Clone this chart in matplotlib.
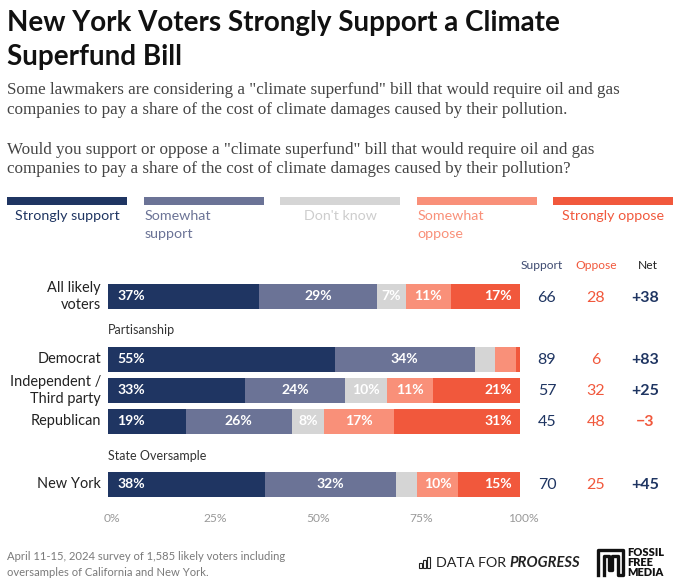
import numpy as np
import matplotlib
matplotlib.use("Agg")
import matplotlib.pyplot as plt
from matplotlib.patches import Rectangle

# data
groups = ["All likely\nvoters", "Democrat", "Independent /\nThird party", "Republican", "New York"]
strongly_support = [37, 55, 33, 19, 38]
somewhat_support = [29, 34, 24, 26, 32]
dont_know = [7, 5, 10, 8, 5]
somewhat_oppose = [11, 5, 11, 17, 10]
strongly_oppose = [17, 1, 21, 31, 15]
support_total = [66, 89, 57, 45, 70]
oppose_total = [28, 6, 32, 48, 25]
net = [38, 83, 25, -3, 45]
categories = ["Strongly support", "Somewhat\nsupport", "Don't know", "Somewhat\noppose", "Strongly oppose"]
ticks = [0, 25, 50, 75, 100]

colors = ["#1f3562", "#6b7396", "#d5d5d5", "#f99079", "#f1583c"]
legend_text_colors = ["#1f3562", "#6b7396", "#cdcdcd", "#f99079", "#f1583c"]
NAVY = "#1f3562"
RED = "#f1583c"

W, H = 680, 585
SANS = "Lato"
SERIF = "Liberation Serif"


def P(x, y):
    return x / W, 1 - y / H


def fs(px):
    return px * 0.72


fig = plt.figure(figsize=(W / 100, H / 100), dpi=100)
fig.patch.set_facecolor("white")

# title + subtitle
fig.text(*P(7, 31.5), "New York Voters Strongly Support a Climate", fontsize=fs(27.8), fontweight="bold",
         family=SANS, color="#111111", va="baseline")
fig.text(*P(7, 65), "Superfund Bill", fontsize=fs(27.8), fontweight="bold", family=SANS,
         color="#111111", va="baseline")
sub = ['Some lawmakers are considering a "climate superfund" bill that would require oil and gas',
       'companies to pay a share of the cost of climate damages caused by their pollution.',
       'Would you support or oppose a "climate superfund" bill that would require oil and gas',
       'companies to pay a share of the cost of climate damages caused by their pollution?']
for txt, yb in zip(sub, [94.5, 113.5, 153.5, 172.5]):
    fig.text(*P(7, yb), txt, fontsize=fs(17), family=SERIF, color="#444444", va="baseline")

# legend
for i, (cat, c, tc) in enumerate(zip(categories, colors, legend_text_colors)):
    x0 = 7 + i * 136.5
    fig.patches.append(Rectangle(P(x0, 205), 120 / W, 8 / H, transform=fig.transFigure,
                                 facecolor=c, edgecolor="none"))
    lines = cat.split("\n")
    if len(lines) == 1:
        fig.text(*P(x0 + 60, 216.5), lines[0], fontsize=fs(14.2), family=SANS, color=tc,
                 ha="center", va="center")
    else:
        for j, ln in enumerate(lines):
            fig.text(*P(x0 + 1, 216.5 + j * 17.5), ln, fontsize=fs(14.2), family=SANS, color=tc,
                     ha="left", va="center")

# bars (each row scaled to fill 100%)
ax = fig.add_axes([108 / W, 1 - 530 / H, 412 / W, 260 / H])
ax.set_xlim(0, 100)
ax.set_ylim(530, 270)
ax.axis("off")
rows_y = [296.5, 359.2, 390.2, 421.5, 484.2]
series = np.array([strongly_support, somewhat_support, dont_know, somewhat_oppose, strongly_oppose],
                  dtype=float)
widths = series / series.sum(axis=0) * 100
left = np.zeros(len(groups))
for k, (vals, w, c) in enumerate(zip(series, widths, colors)):
    ax.barh(rows_y, w, left=left, height=25, color=c, linewidth=0)
    for y, l, v, ww in zip(rows_y, left, vals, w):
        if v < 7:
            continue
        kw = dict(color="white", fontsize=fs(14), fontweight="bold", family=SANS, va="center",
                  textcoords="offset pixels", annotation_clip=False)
        if k == 0:
            ax.annotate(f"{int(v)}%", (l, y), xytext=(9, 0), ha="left", **kw)
        elif k == 4:
            ax.annotate(f"{int(v)}%", (l + ww, y), xytext=(-8, 0), ha="right", **kw)
        else:
            ax.annotate(f"{int(v)}%", (l + ww / 2, y), xytext=(0, 0), ha="center", **kw)
    left += w

# x tick labels
for t in ticks:
    ax.annotate(f"{t}%", (t, 519), xytext=(4, 0), textcoords="offset pixels", ha="center",
                va="center", color="#999999", fontsize=fs(12), family=SANS, annotation_clip=False)

# row labels
for g, y in zip(groups, rows_y):
    lines = g.split("\n")
    n = len(lines)
    for j, ln in enumerate(lines):
        fig.text(*P(101, y + (j - (n - 1) / 2) * 17), ln, fontsize=fs(14.5), family=SANS,
                 color="#222222", ha="right", va="center")

fig.text(*P(108, 330), "Partisanship", fontsize=fs(12.5), family=SANS, color="#333333", va="center")
fig.text(*P(108, 456), "State Oversample", fontsize=fs(12.5), family=SANS, color="#333333", va="center")

# summary columns
fig.text(*P(542, 266), "Support", fontsize=fs(12), family=SANS, color="#3d4a70", ha="center", va="center")
fig.text(*P(596, 266), "Oppose", fontsize=fs(12), family=SANS, color=RED, ha="center", va="center")
fig.text(*P(648, 266), "Net", fontsize=fs(12), family=SANS, color="#222222", ha="center", va="center")
for y, s, o, n in zip(rows_y, support_total, oppose_total, net):
    fig.text(*P(547, y + 1), str(s), fontsize=fs(16), family=SANS, color=NAVY, ha="center", va="center")
    fig.text(*P(596, y + 1), str(o), fontsize=fs(16), family=SANS, color=RED, ha="center", va="center")
    lab = f"+{n}" if n > 0 else f"\u2212{abs(n)}"
    fig.text(*P(645, y + 1), lab, fontsize=fs(16), family=SANS, fontweight="bold",
             color=NAVY if n > 0 else RED, ha="center", va="center")

# footer
fig.text(*P(7, 556.5), "April 11-15, 2024 survey of 1,585 likely voters including", fontsize=fs(11.2),
         family=SANS, color="#7a7a7a", va="center")
fig.text(*P(7, 572), "oversamples of California and New York.", fontsize=fs(11.2),
         family=SANS, color="#7a7a7a", va="center")

# Data for Progress mark
for bx, bh in zip([419, 423, 427], [5, 8, 11]):
    fig.patches.append(Rectangle(P(bx, 568), 3 / W, bh / H, transform=fig.transFigure,
                                 facecolor="none", edgecolor="#222222", linewidth=0.8))
fig.text(*P(436, 563), "DATA FOR", fontsize=fs(14.3), family=SANS,
         color="#222222", va="center")
fig.text(*P(580, 563), "PROGRESS", fontsize=fs(14.8), family=SANS, fontweight="bold", style="italic",
         color="#222222", va="center", ha="right")

# Fossil Free Media mark
fx = [598, 598, 623, 623, 617.5, 617.5, 612, 612, 609, 609, 603.5, 603.5]
fy = [575, 550, 550, 575, 575, 556, 556, 570, 570, 556, 556, 575]
fig.lines.append(plt.Line2D([P(x, 0)[0] for x in fx], [P(0, y)[1] for y in fy],
                            transform=fig.transFigure, color="#111111", linewidth=2.4))
for j, ln in enumerate(["FOSSIL", "FREE", "MEDIA"]):
    fig.text(*P(627, 553 + j * 9.5), ln, fontsize=fs(11), family=SANS, fontweight="heavy",
             color="#111111", va="center")

fig.savefig("out.png", dpi=100, facecolor="white")
